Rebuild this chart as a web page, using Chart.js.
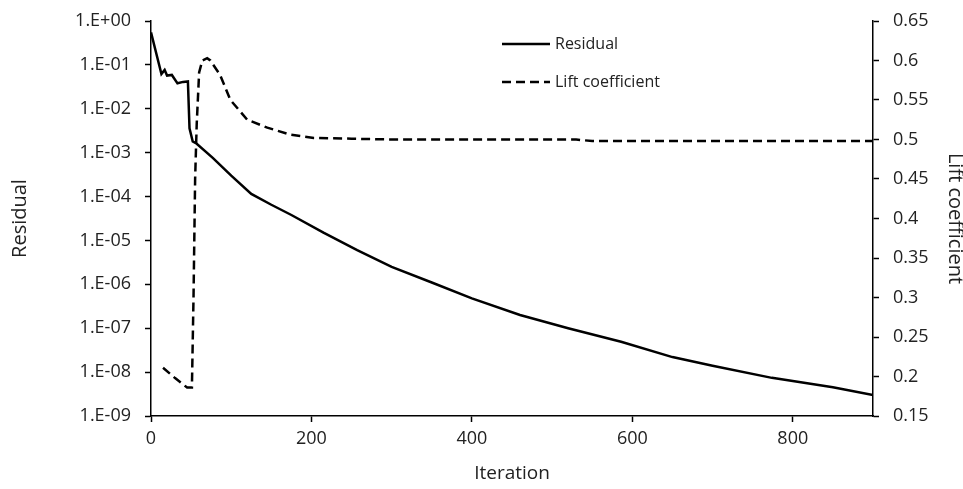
<!DOCTYPE html>
<html>
<head>
<meta charset="utf-8">
<script src="https://cdn.jsdelivr.net/npm/chart.js@4"></script>
<style>
  html, body { margin: 0; padding: 0; background: #fff; }
  #wrap { width: 963px; height: 489px; }
</style>
</head>
<body>
<div id="wrap"><canvas id="chart"></canvas></div>
<script>
// Residual history (log axis)
const residualIter = [0, 13, 17, 20, 26, 33, 40, 46, 48, 52, 57, 77, 100, 125, 150, 175, 215, 257, 300, 350, 400, 460, 520, 586, 650, 700, 774, 850, 900];
const residualVals = [0.55, 0.062, 0.077, 0.057, 0.059, 0.038, 0.041, 0.042, 0.0036, 0.0018, 1.6e-3, 7.6e-4, 3.0e-4, 1.15e-4, 6.5e-5, 3.8e-5, 1.5e-5, 6e-6, 2.5e-6, 1.1e-6, 4.8e-7, 2.0e-7, 1.0e-7, 4.9e-8, 2.2e-8, 1.4e-8, 7.4e-9, 4.5e-9, 3.0e-9];

// Lift coefficient history (right axis)
const liftIter = [15, 30, 45, 51, 53, 55, 57, 60, 64, 70, 74, 86, 99, 120, 145, 174, 203, 250, 300, 400, 530, 550, 700, 900];
const liftVals = [0.211, 0.198, 0.186, 0.186, 0.3, 0.45, 0.52, 0.585, 0.6, 0.603, 0.6, 0.582, 0.55, 0.525, 0.515, 0.506, 0.502, 0.501, 0.5, 0.5, 0.5, 0.498, 0.498, 0.498];

// axis ticks
const iterTicks = [0, 200, 400, 600, 800];
const residualTicks = [1, 1e-1, 1e-2, 1e-3, 1e-4, 1e-5, 1e-6, 1e-7, 1e-8, 1e-9];
const liftTicks = [0.15, 0.2, 0.25, 0.3, 0.35, 0.4, 0.45, 0.5, 0.55, 0.6, 0.65];

const FONT = '"Open Sans", sans-serif';

const toPoints = (xs, ys) => xs.map((x, i) => ({ x: x, y: ys[i] }));

// label like Excel: 1.E-05
const sciLabel = v => {
  const e = Math.round(Math.log10(v));
  const sign = e < 0 ? '-' : '+';
  return '1.E' + sign + String(Math.abs(e)).padStart(2, '0');
};

// legend drawn in the plot, top middle
const legendPlugin = {
  id: 'insideLegend',
  afterDraw(chart) {
    const ctx = chart.ctx;
    const rows = [44, 82];
    ctx.save();
    chart.data.datasets.forEach((ds, i) => {
      const y = rows[i];
      ctx.beginPath();
      ctx.strokeStyle = ds.borderColor;
      ctx.lineWidth = ds.borderWidth;
      ctx.setLineDash(ds.borderDash || []);
      ctx.moveTo(502, y);
      ctx.lineTo(550, y);
      ctx.stroke();
      ctx.setLineDash([]);
      ctx.fillStyle = '#222';
      ctx.font = '16px ' + FONT;
      ctx.textAlign = 'left';
      ctx.textBaseline = 'middle';
      ctx.fillText(ds.label, 555, y);
    });
    ctx.restore();
  }
};

const axisGrid = {
  display: true,
  drawOnChartArea: false,
  drawTicks: true,
  tickLength: 6,
  tickColor: '#000',
  tickWidth: 1.5
};
const axisBorder = { display: true, color: '#000', width: 1.5 };
const tickFont = { family: FONT, size: 18 };

// fixed box sizes so the plot area lands where the original one is
const fixWidth = w => s => { s.width = w; s.paddingTop = 0; s.paddingBottom = 0; };

new Chart(document.getElementById('chart'), {
  type: 'line',
  data: {
    datasets: [
      {
        label: 'Residual',
        data: toPoints(residualIter, residualVals),
        yAxisID: 'y',
        borderColor: '#000',
        borderWidth: 2.5,
        pointRadius: 0,
        tension: 0,
        fill: false
      },
      {
        label: 'Lift coefficient',
        data: toPoints(liftIter, liftVals),
        yAxisID: 'y1',
        borderColor: '#000',
        borderWidth: 2.5,
        borderDash: [9, 5],
        pointRadius: 0,
        tension: 0,
        fill: false
      }
    ]
  },
  options: {
    responsive: true,
    maintainAspectRatio: false,
    animation: false,
    layout: { padding: { top: 21, left: 0, right: 0, bottom: 0 } },
    plugins: {
      legend: { display: false },
      tooltip: { enabled: false }
    },
    scales: {
      x: {
        type: 'linear',
        min: 0,
        max: 900,
        grid: axisGrid,
        border: axisBorder,
        afterBuildTicks: s => { s.ticks = iterTicks.map(v => ({ value: v })); },
        afterFit: s => { s.height = 73; },
        ticks: {
          color: '#222',
          font: tickFont,
          padding: 6,
          maxRotation: 0
        },
        title: {
          display: true,
          text: 'Iteration',
          color: '#222',
          font: { family: FONT, size: 19, lineHeight: 1.2 },
          padding: { top: 0, bottom: 4 }
        }
      },
      y: {
        type: 'logarithmic',
        position: 'left',
        min: 1e-9,
        max: 1,
        grid: axisGrid,
        border: axisBorder,
        afterBuildTicks: s => { s.ticks = residualTicks.map(v => ({ value: v })); },
        afterFit: fixWidth(151),
        ticks: {
          color: '#222',
          font: tickFont,
          padding: 14,
          callback: v => sciLabel(v)
        },
        title: {
          display: true,
          text: 'Residual',
          color: '#222',
          font: { family: FONT, size: 20, lineHeight: 1.2 },
          padding: { top: 8, bottom: 0 }
        }
      },
      y1: {
        type: 'linear',
        position: 'right',
        min: 0.15,
        max: 0.65,
        grid: axisGrid,
        border: axisBorder,
        afterBuildTicks: s => { s.ticks = liftTicks.map(v => ({ value: v })); },
        afterFit: fixWidth(90),
        ticks: {
          color: '#222',
          font: tickFont,
          padding: 14,
          callback: v => String(Math.round(v * 100) / 100)
        },
        title: {
          display: true,
          text: 'Lift coefficient',
          color: '#222',
          font: { family: FONT, size: 20, lineHeight: 0.8 },
          padding: { top: 0, bottom: 0 }
        }
      }
    }
  },
  plugins: [legendPlugin]
});
</script>
</body>
</html>
